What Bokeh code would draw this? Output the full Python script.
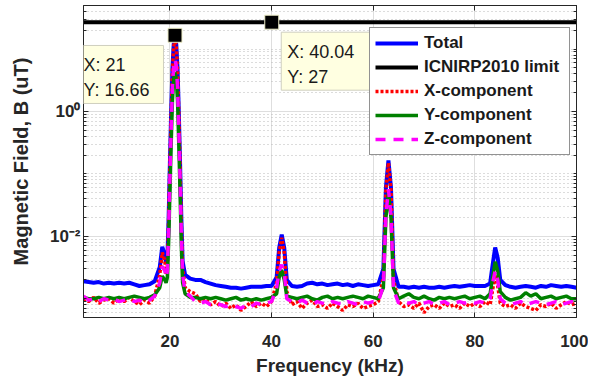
from bokeh.plotting import figure
from bokeh.models import (Range1d, FixedTicker, LogAxis, LinearAxis, CustomJSTickFormatter,
                          Legend, LegendItem, Label, ColumnDataSource)
from bokeh.embed import file_html
from bokeh.resources import INLINE

# ---------------- data ----------------
freq = [
    3, 4, 5, 6, 7, 8, 9, 10, 11, 12, 13, 14, 15, 16, 17,
    18, 18.5, 19, 19.25, 19.5, 19.75, 20, 20.25, 20.5, 20.75, 21, 21.25, 21.5, 21.75, 22, 22.25, 22.5,
    23, 24, 25, 26, 27, 28, 29, 30, 31, 32, 33, 34, 35, 36, 37, 38, 39, 40,
    41, 41.5, 42, 42.5, 43,
    44, 45, 46, 47, 48, 49, 50, 51, 52, 53, 54, 55, 56, 57, 58, 59, 60, 61,
    62, 62.5, 63, 63.5, 64,
    65, 66, 67, 68, 69, 70, 71, 72, 73, 74, 75, 76, 77, 78, 79, 80, 81, 82, 83,
    83.5, 84, 84.5, 85,
    86, 87, 88, 89, 90, 91, 92, 93, 94, 95, 96, 97, 98, 99, 100,
]

total = [
    1.9e-3, 1.85e-3, 1.8e-3, 1.85e-3, 1.75e-3, 1.8e-3, 1.75e-3, 1.8e-3, 1.75e-3, 1.8e-3, 1.7e-3, 1.6e-3, 1.65e-3, 1.7e-3, 1.9e-3,
    3.2e-3, 6.8e-3, 5.0e-3, 3.8e-3, 4.5e-3, 0.02, 0.15, 1.0, 5.0, 12.0, 16.66, 12.0, 5.0, 1.0, 0.15, 0.02, 4.0e-3,
    2.4e-3, 2.1e-3, 2.0e-3, 2.0e-3, 1.85e-3, 1.75e-3, 1.65e-3, 1.6e-3, 1.55e-3, 1.5e-3, 1.5e-3, 1.45e-3, 1.5e-3, 1.55e-3, 1.55e-3, 1.55e-3, 1.6e-3, 1.6e-3,
    2.2e-3, 6.5e-3, 1.06e-2, 6.5e-3, 2.0e-3,
    1.6e-3, 1.55e-3, 1.6e-3, 1.75e-3, 1.8e-3, 1.7e-3, 1.75e-3, 1.65e-3, 1.7e-3, 1.75e-3, 1.65e-3, 1.7e-3, 1.6e-3, 1.7e-3, 1.65e-3, 1.6e-3, 1.65e-3, 1.7e-3,
    3.0e-3, 0.06, 0.165, 0.06, 3.0e-3,
    1.55e-3, 1.55e-3, 1.5e-3, 1.55e-3, 1.5e-3, 1.55e-3, 1.5e-3, 1.5e-3, 1.55e-3, 1.5e-3, 1.55e-3, 1.6e-3, 1.55e-3, 1.6e-3, 1.65e-3, 1.6e-3, 1.6e-3, 1.6e-3, 1.75e-3,
    3.5e-3, 6.6e-3, 4.5e-3, 2.0e-3,
    1.65e-3, 1.55e-3, 1.5e-3, 1.55e-3, 1.6e-3, 1.55e-3, 1.5e-3, 1.6e-3, 1.55e-3, 1.65e-3, 1.6e-3, 1.55e-3, 1.6e-3, 1.55e-3, 1.5e-3,
]

x_component = [
    1.0e-3, 9.0e-4, 1.05e-3, 8.5e-4, 9.5e-4, 1.0e-3, 8.5e-4, 1.0e-3, 9.0e-4, 1.05e-3, 9.0e-4, 8.0e-4, 9.5e-4, 8.5e-4, 1.1e-3,
    2.4e-3, 5.5e-3, 4.0e-3, 2.5e-3, 3.0e-3, 0.018, 0.14, 0.9, 4.5, 11.0, 14.5, 11.0, 4.5, 0.9, 0.13, 0.015, 3.0e-3,
    1.5e-3, 1.3e-3, 1.2e-3, 9.0e-4, 1.0e-3, 8.0e-4, 9.0e-4, 7.5e-4, 8.5e-4, 7.0e-4, 8.0e-4, 6.5e-4, 7.5e-4, 9.0e-4, 7.5e-4, 8.5e-4, 7.5e-4, 9.0e-4,
    1.8e-3, 5.5e-3, 9.5e-3, 5.5e-3, 1.3e-3,
    8.0e-4, 9.0e-4, 7.0e-4, 8.5e-4, 9.5e-4, 7.5e-4, 8.0e-4, 7.0e-4, 8.5e-4, 7.5e-4, 6.5e-4, 8.0e-4, 7.5e-4, 8.5e-4, 7.0e-4, 7.5e-4, 8.0e-4, 9.0e-4,
    2.2e-3, 0.055, 0.15, 0.055, 2.0e-3,
    9.0e-4, 7.5e-4, 8.0e-4, 7.0e-4, 8.5e-4, 6.0e-4, 7.5e-4, 8.0e-4, 7.0e-4, 8.5e-4, 7.5e-4, 8.0e-4, 7.0e-4, 8.5e-4, 7.5e-4, 8.5e-4, 7.5e-4, 9.0e-4, 8.0e-4,
    1.4e-3, 2.4e-3, 1.6e-3, 8.5e-4,
    7.5e-4, 8.0e-4, 7.0e-4, 8.5e-4, 7.5e-4, 7.0e-4, 6.5e-4, 8.0e-4, 7.5e-4, 8.5e-4, 7.0e-4, 8.0e-4, 9.0e-4, 8.0e-4, 8.5e-4,
]

y_component = [
    1.05e-3, 1.0e-3, 1.0e-3, 1.05e-3, 1.0e-3, 1.05e-3, 1.0e-3, 1.05e-3, 1.0e-3, 1.05e-3, 1.1e-3, 1.05e-3, 1.0e-3, 1.05e-3, 1.15e-3,
    1.5e-3, 2.3e-3, 2.0e-3, 1.8e-3, 2.2e-3, 8.0e-3, 0.05, 0.3, 1.5, 3.3, 4.2, 3.3, 1.5, 0.3, 0.05, 7.0e-3, 1.8e-3,
    1.2e-3, 1.05e-3, 1.05e-3, 1.0e-3, 1.05e-3, 1.0e-3, 1.05e-3, 1.0e-3, 9.5e-4, 1.0e-3, 1.05e-3, 9.5e-4, 1.0e-3, 9.5e-4, 1.0e-3, 9.5e-4, 1.0e-3, 1.05e-3,
    1.2e-3, 2.2e-3, 2.9e-3, 2.0e-3, 1.1e-3,
    1.05e-3, 1.0e-3, 1.05e-3, 1.1e-3, 1.0e-3, 9.5e-4, 1.05e-3, 1.1e-3, 1.0e-3, 1.05e-3, 1.0e-3, 1.05e-3, 1.1e-3, 1.05e-3, 1.0e-3, 1.1e-3, 1.05e-3, 1.0e-3,
    1.5e-3, 0.02, 0.05, 0.02, 1.5e-3,
    1.0e-3, 1.1e-3, 1.2e-3, 1.05e-3, 1.0e-3, 1.1e-3, 1.0e-3, 9.5e-4, 1.05e-3, 1.0e-3, 1.05e-3, 1.0e-3, 1.05e-3, 1.1e-3, 1.0e-3, 1.05e-3, 1.1e-3, 1.0e-3, 1.2e-3,
    2.2e-3, 3.9e-3, 2.8e-3, 1.3e-3,
    1.05e-3, 9.5e-4, 1.0e-3, 1.05e-3, 1.25e-3, 1.1e-3, 1.2e-3, 1.0e-3, 1.05e-3, 1.1e-3, 1.0e-3, 1.05e-3, 1.1e-3, 1.0e-3, 1.0e-3,
]

z_component = [
    1.1e-3, 9.5e-4, 1.0e-3, 9.0e-4, 1.0e-3, 9.5e-4, 1.0e-3, 9.0e-4, 9.5e-4, 1.0e-3, 9.0e-4, 9.5e-4, 8.5e-4, 9.5e-4, 1.1e-3,
    1.8e-3, 3.3e-3, 2.8e-3, 2.2e-3, 2.8e-3, 0.012, 0.08, 0.5, 2.5, 5.5, 6.8, 5.5, 2.5, 0.5, 0.08, 0.01, 2.4e-3,
    1.3e-3, 1.1e-3, 9.0e-4, 8.5e-4, 9.0e-4, 8.0e-4, 8.5e-4, 8.0e-4, 7.5e-4, 8.0e-4, 7.5e-4, 7.0e-4, 8.0e-4, 7.5e-4, 8.5e-4, 8.0e-4, 8.5e-4, 9.0e-4,
    1.5e-3, 2.8e-3, 3.5e-3, 2.6e-3, 1.0e-3,
    9.0e-4, 8.5e-4, 9.5e-4, 8.5e-4, 8.0e-4, 9.0e-4, 8.5e-4, 8.0e-4, 9.0e-4, 8.5e-4, 8.0e-4, 9.0e-4, 8.5e-4, 8.0e-4, 9.0e-4, 8.5e-4, 9.0e-4, 9.0e-4,
    1.6e-3, 0.022, 0.057, 0.022, 1.4e-3,
    8.5e-4, 9.0e-4, 8.5e-4, 9.0e-4, 8.0e-4, 8.5e-4, 9.0e-4, 8.0e-4, 8.5e-4, 9.0e-4, 8.0e-4, 8.5e-4, 9.0e-4, 8.5e-4, 9.0e-4, 8.5e-4, 9.0e-4, 8.5e-4, 1.0e-3,
    1.8e-3, 2.8e-3, 2.0e-3, 1.0e-3,
    8.5e-4, 8.0e-4, 8.5e-4, 9.0e-4, 8.0e-4, 8.5e-4, 9.0e-4, 8.5e-4, 8.0e-4, 8.5e-4, 9.0e-4, 8.0e-4, 8.5e-4, 9.0e-4, 8.5e-4,
]

icnirp_limit = 27.0
tip_freq = [21, 40.04]
tip_value = [16.66, 27]
tip_text = ["X: 21\nY: 16.66", "X: 40.04\nY: 27"]

x_ticks = [20, 40, 60, 80, 100]
y_ticks = [1e-2, 1]
y_minor_ticks = [6e-4, 7e-4, 8e-4, 9e-4, 1e-3, 2e-3, 3e-3, 4e-3, 5e-3, 6e-3, 7e-3, 8e-3, 9e-3,
                 2e-2, 3e-2, 4e-2, 5e-2, 6e-2, 7e-2, 8e-2, 9e-2, 0.1, 0.2, 0.3, 0.4, 0.5, 0.6, 0.7,
                 0.8, 0.9, 2, 3, 4, 5, 6, 7, 8, 9, 10, 20, 30, 40]

# ---------------- figure ----------------
FONT = "Liberation Sans"
AX = "#262626"

p = figure(width=588, height=380, x_range=Range1d(3, 100), y_range=Range1d(5e-4, 50),
           y_axis_type="log", output_backend="svg", toolbar_location=None,
           min_border=0, min_border_left=83, min_border_right=12, min_border_top=5,
           min_border_bottom=63)
p.background_fill_color = "white"
p.border_fill_color = "white"
p.outline_line_color = AX
p.outline_line_width = 1

xt = FixedTicker(ticks=x_ticks, minor_ticks=[])
yt = FixedTicker(ticks=y_ticks, minor_ticks=y_minor_ticks)
p.xaxis.ticker = xt
p.yaxis.ticker = yt
p.xgrid.ticker = xt
p.ygrid.ticker = yt

sup_fmt = CustomJSTickFormatter(code="""
const sup = {"-": "\u207b", "0": "\u2070", "1": "\u00b9", "2": "\u00b2", "3": "\u00b3",
             "4": "\u2074", "5": "\u2075", "6": "\u2076", "7": "\u2077", "8": "\u2078", "9": "\u2079"};
const e = Math.round(Math.log10(tick));
return "10" + String(e).split("").map(c => sup[c]).join("");
""")
p.yaxis.formatter = sup_fmt

for ax in (p.xaxis[0], p.yaxis[0]):
    ax.axis_line_color = AX
    ax.major_tick_line_color = AX
    ax.minor_tick_line_color = AX
    ax.major_tick_in = 5
    ax.major_tick_out = 0
    ax.minor_tick_in = 3
    ax.minor_tick_out = 0
    ax.major_label_text_font = FONT
    ax.major_label_text_font_style = "bold"
    ax.major_label_text_font_size = "17px"
    ax.major_label_text_color = AX
    ax.axis_label_text_font = FONT
    ax.axis_label_text_font_style = "bold"
    ax.axis_label_text_color = AX

p.xaxis.axis_label = "Frequency (kHz)"
p.yaxis.axis_label = "Magnetic Field, B (uT)"
p.xaxis.axis_label_text_font_size = "19px"
p.yaxis.axis_label_text_font_size = "20px"
p.xaxis.major_label_standoff = 17
p.xaxis.axis_label_standoff = 5
p.yaxis.major_label_standoff = 3
p.yaxis.axis_label_standoff = 15

blank = CustomJSTickFormatter(code="return ''")
ax_r = LogAxis(ticker=yt, formatter=blank, major_tick_in=5, major_tick_out=0, minor_tick_in=3,
               minor_tick_out=0, axis_line_color=AX, major_tick_line_color=AX,
               minor_tick_line_color=AX, major_label_standoff=0)
p.add_layout(ax_r, "right")
ax_t = LinearAxis(ticker=xt, formatter=blank, major_tick_in=5, major_tick_out=0,
                  axis_line_color=AX, major_tick_line_color=AX, major_label_standoff=0)
p.add_layout(ax_t, "above")

p.xgrid.grid_line_color = "#dedede"
p.ygrid.grid_line_color = "#dedede"
p.ygrid.minor_grid_line_color = "#b8b8b8"
p.ygrid.minor_grid_line_dash = "1 3"

src = ColumnDataSource(dict(freq=freq, total=total, xc=x_component, yc=y_component, zc=z_component,
                            limit=[icnirp_limit] * len(freq)))

r_tot = p.line("freq", "total", source=src, line_color="#0000ff", line_width=4)
r_lim = p.line("freq", "limit", source=src, line_color="black", line_width=4)
r_x = p.line("freq", "xc", source=src, line_color="#ff0000", line_width=3.5, line_dash="3 2")
r_y = p.line("freq", "yc", source=src, line_color="#008000", line_width=3.5)
r_z = p.line("freq", "zc", source=src, line_color="#ff00ff", line_width=3.5, line_dash="10 8")

p.scatter(tip_freq, tip_value, marker="square", size=14, fill_color="black",
          line_color="#eeeec8", line_width=1)

tip_layout = [(-97.5, -10.2, 14), (9.5, -10.0, 22)]
for fx, fy, txt, (dx, dy, pr) in zip(tip_freq, tip_value, tip_text, tip_layout):
    p.add_layout(Label(x=fx, y=fy, x_offset=dx, y_offset=dy, text=txt,
                       text_align="left", text_baseline="top", text_font=FONT,
                       text_font_size="18px", text_color="#1a1a1a", text_line_height=1.25,
                       background_fill_color="#ffffe1", border_line_color="#cfcfbf",
                       padding=dict(left=6, right=pr, top=10, bottom=3)))

legend = Legend(items=[LegendItem(label="Total", renderers=[r_tot]),
                       LegendItem(label="ICNIRP2010 limit", renderers=[r_lim]),
                       LegendItem(label="X-component", renderers=[r_x]),
                       LegendItem(label="Y-component", renderers=[r_y]),
                       LegendItem(label="Z-component", renderers=[r_z])],
                location=(286, 162), glyph_width=43, glyph_height=20, label_height=20,
                label_width=140, label_standoff=6, spacing=4, padding=5, margin=0,
                label_text_font=FONT, label_text_font_style="bold", label_text_font_size="17px",
                label_text_color="#1a1a1a", border_line_color=AX, border_line_width=1,
                background_fill_color="white", background_fill_alpha=1.0)
p.add_layout(legend)

open("out.html", "w").write(file_html(p, INLINE))
